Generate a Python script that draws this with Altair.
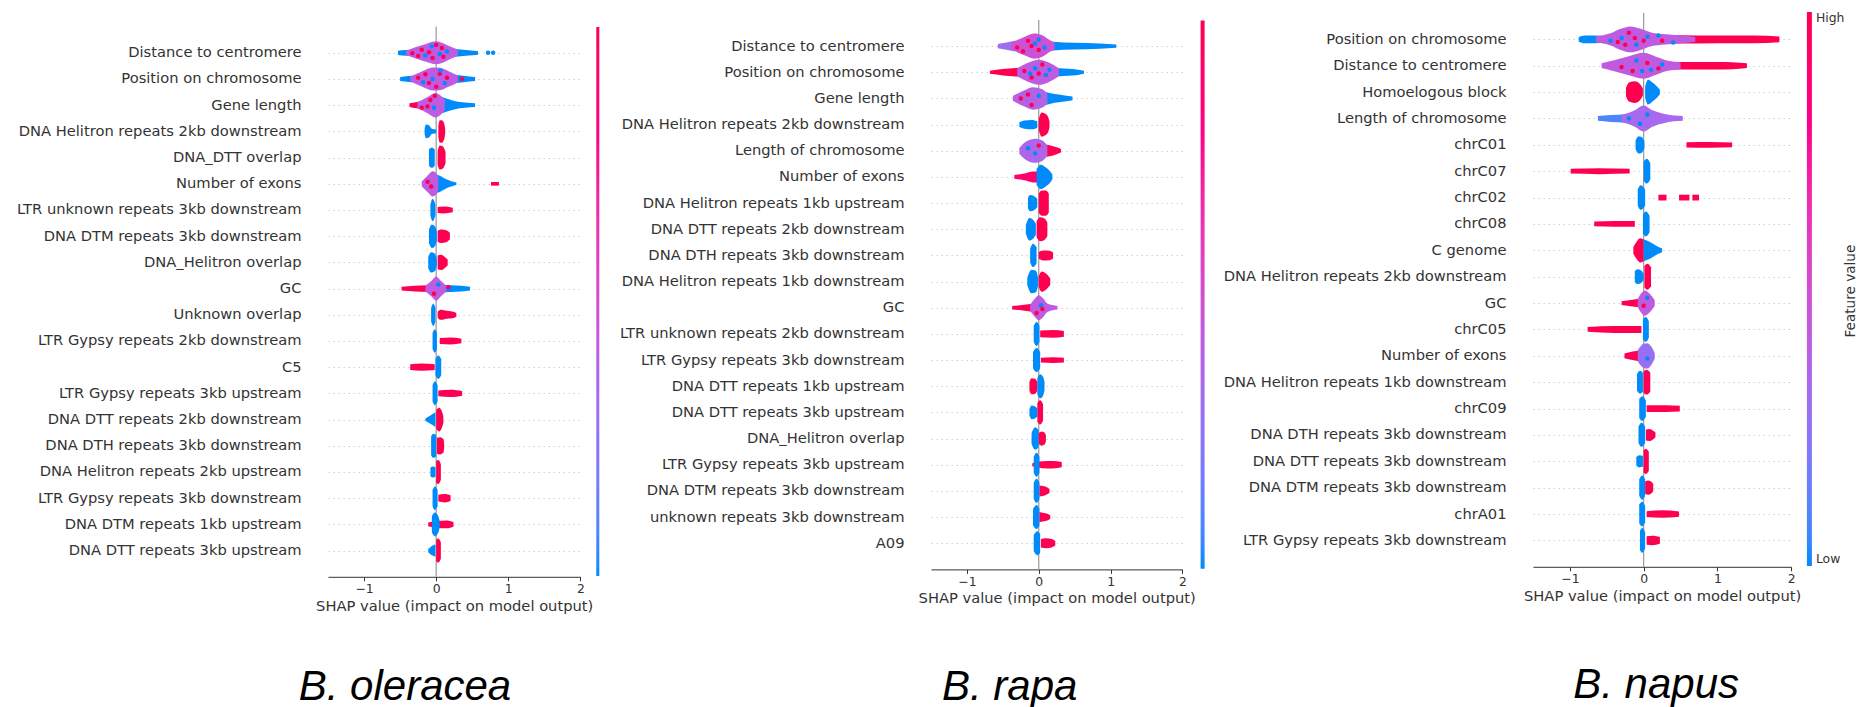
import json
import altair as alt
import pandas as pd

XMIN, XMAX = -1.5, 2.0
XTICKS = [-1, 0, 1, 2]
LOW_COLOR, HIGH_COLOR = "#008bfb", "#ff0051"
AXIS_TITLE = "SHAP value (impact on model output)"
MIX = 0.42  # feature value of the mixed (purple) part of a swarm

# ---------------- B. oleracea ----------------
OLERACEA_FEATURES = [
    "Distance to centromere", "Position on chromosome", "Gene length",
    "DNA Helitron repeats 2kb downstream", "DNA_DTT overlap", "Number of exons",
    "LTR unknown repeats 3kb downstream", "DNA DTM repeats 3kb downstream",
    "DNA_Helitron overlap", "GC", "Unknown overlap", "LTR Gypsy repeats 2kb downstream",
    "C5", "LTR Gypsy repeats 3kb upstream", "DNA DTT repeats 2kb downstream",
    "DNA DTH repeats 3kb downstream", "DNA Helitron repeats 2kb upstream",
    "LTR Gypsy repeats 3kb downstream", "DNA DTM repeats 1kb upstream",
    "DNA DTT repeats 3kb upstream",
]
# (row, feature value 0=low..1=high, [(shap value, half thickness in rows), ...])
OLERACEA_BLOBS = [
    (1, 0.0, [(-0.53, 0.08), (-0.42, 0.11), (-0.3, 0.13)]),
    (1, 0.0, [(0.15, 0.21), (0.3, 0.14), (0.45, 0.1), (0.58, 0.07)]),
    (1, MIX, [(-0.42, 0.07), (-0.27, 0.23), (-0.13, 0.35), (0.0, 0.44), (0.12, 0.34), (0.22, 0.21), (0.3, 0.11)]),
    (2, 0.0, [(-0.5, 0.08), (-0.38, 0.11), (-0.28, 0.13)]),
    (2, 0.0, [(0.2, 0.16), (0.35, 0.13), (0.46, 0.1), (0.54, 0.08)]),
    (2, MIX, [(-0.36, 0.09), (-0.2, 0.29), (-0.05, 0.44), (0.05, 0.43), (0.18, 0.29), (0.3, 0.13)]),
    (3, 1.0, [(-0.37, 0.07), (-0.27, 0.12), (-0.15, 0.19)]),
    (3, 0.0, [(0.0, 0.39), (0.12, 0.27), (0.25, 0.16), (0.4, 0.1), (0.54, 0.07)]),
    (3, MIX, [(-0.26, 0.11), (-0.12, 0.31), (-0.01, 0.47), (0.07, 0.35), (0.12, 0.19)]),
    (4, 0.0, [(-0.16, 0.11), (-0.14, 0.26), (-0.1, 0.23), (-0.06, 0.1), (0.0, 0.07)]),
    (4, 1.0, [(0.03, 0.21), (0.05, 0.43), (0.08, 0.43), (0.11, 0.31), (0.125, 0.11)]),
    (5, 0.0, [(-0.1, 0.31), (-0.06, 0.39), (-0.02, 0.31)]),
    (5, 1.0, [(0.02, 0.26), (0.05, 0.46), (0.09, 0.43), (0.13, 0.21)]),
    (6, 0.0, [(-0.02, 0.36), (0.05, 0.31), (0.15, 0.16), (0.22, 0.09), (0.28, 0.05)]),
    (6, MIX, [(-0.2, 0.09), (-0.12, 0.31), (-0.05, 0.48), (0.0, 0.41), (0.03, 0.21)]),
    (6, 1.0, [(0.76, 0.07), (0.87, 0.07)]),
    (7, 0.0, [(-0.08, 0.21), (-0.05, 0.43), (-0.01, 0.21)]),
    (7, 1.0, [(0.02, 0.11), (0.1, 0.13), (0.23, 0.09)]),
    (8, 0.0, [(-0.1, 0.26), (-0.06, 0.45), (-0.02, 0.39), (0.01, 0.16)]),
    (8, 1.0, [(0.02, 0.21), (0.07, 0.26), (0.14, 0.23), (0.19, 0.13)]),
    (9, 0.0, [(-0.11, 0.21), (-0.07, 0.39), (-0.02, 0.34), (0.01, 0.11)]),
    (9, 1.0, [(0.02, 0.26), (0.07, 0.29), (0.12, 0.21), (0.16, 0.11)]),
    (10, 1.0, [(-0.48, 0.07), (-0.3, 0.11), (-0.12, 0.13)]),
    (10, 0.0, [(0.05, 0.16), (0.2, 0.13), (0.35, 0.11), (0.47, 0.07)]),
    (10, MIX, [(-0.15, 0.11), (-0.06, 0.31), (0.0, 0.46), (0.06, 0.31), (0.14, 0.11)]),
    (11, 0.0, [(-0.07, 0.26), (-0.04, 0.43), (-0.01, 0.26)]),
    (11, 1.0, [(0.02, 0.11), (0.06, 0.19), (0.15, 0.15), (0.25, 0.11), (0.28, 0.07)]),
    (12, 0.0, [(-0.05, 0.31), (-0.02, 0.45), (0.01, 0.31)]),
    (12, 1.0, [(0.05, 0.11), (0.2, 0.13), (0.35, 0.09)]),
    (13, 1.0, [(-0.36, 0.11), (-0.2, 0.14), (-0.02, 0.11)]),
    (13, 0.0, [(-0.01, 0.31), (0.03, 0.45), (0.07, 0.31)]),
    (14, 0.0, [(-0.05, 0.31), (-0.02, 0.45), (0.02, 0.31)]),
    (14, 1.0, [(0.03, 0.11), (0.2, 0.14), (0.36, 0.09)]),
    (15, 0.0, [(-0.15, 0.04), (-0.08, 0.16), (-0.01, 0.28)]),
    (15, 1.0, [(0.0, 0.36), (0.04, 0.45), (0.08, 0.31), (0.1, 0.13)]),
    (16, 0.0, [(-0.07, 0.36), (-0.04, 0.46), (0.0, 0.41)]),
    (16, 1.0, [(0.01, 0.31), (0.05, 0.33), (0.1, 0.26), (0.11, 0.11)]),
    (17, 0.0, [(-0.08, 0.16), (-0.05, 0.21), (-0.01, 0.19)]),
    (17, 1.0, [(0.0, 0.41), (0.03, 0.46), (0.065, 0.31)]),
    (18, 0.0, [(-0.05, 0.31), (-0.02, 0.45), (0.02, 0.31)]),
    (18, 1.0, [(0.03, 0.13), (0.12, 0.16), (0.2, 0.11)]),
    (19, 1.0, [(-0.11, 0.07), (0.0, 0.13), (0.15, 0.15), (0.24, 0.09)]),
    (19, 0.0, [(-0.06, 0.31), (-0.02, 0.45), (0.03, 0.31), (0.05, 0.11)]),
    (20, 0.0, [(-0.11, 0.06), (-0.06, 0.18), (-0.01, 0.23)]),
    (20, 1.0, [(0.0, 0.41), (0.03, 0.46), (0.065, 0.31)]),
]
# (row, feature value, shap value, offset within row)
OLERACEA_DOTS = [
    (1, 0.0, 0.72, 0.0), (1, 0.0, 0.79, 0.0),
    (1, 1.0, -0.33, 0.02), (1, 1.0, -0.2, -0.12), (1, 1.0, -0.05, 0.2), (1, 1.0, 0.08, -0.18),
    (1, 0.0, 0.05, 0.05), (1, 1.0, 0.0, -0.3), (1, 0.0, -0.15, 0.1), (1, 1.0, -0.25, 0.12),
    (1, 0.0, 0.15, -0.05), (1, 1.0, 0.1, 0.15), (1, 1.0, -0.1, -0.02), (1, 0.0, -0.06, -0.25),
    (2, 1.0, -0.1, 0.15), (2, 1.0, 0.05, -0.2), (2, 1.0, 0.36, 0.0), (2, 1.0, -0.25, -0.05),
    (2, 0.0, -0.05, 0.0), (2, 0.0, 0.12, 0.15), (2, 1.0, 0.0, 0.3), (2, 1.0, 0.15, -0.05),
    (2, 0.0, -0.18, 0.12), (2, 1.0, -0.15, -0.18), (2, 0.0, 0.06, -0.32),
    (3, 1.0, -0.2, 0.1), (3, 1.0, -0.08, -0.2), (3, 0.0, -0.03, 0.1), (3, 1.0, -0.12, 0.05),
    (3, 1.0, -0.02, -0.35),
    (6, 1.0, -0.07, 0.1), (6, 1.0, -0.12, -0.08),
    (10, 1.0, 0.17, -0.05), (10, 1.0, -0.03, 0.2), (10, 0.0, 0.03, -0.15),
]

# ---------------- B. rapa ----------------
RAPA_FEATURES = [
    "Distance to centromere", "Position on chromosome", "Gene length",
    "DNA Helitron repeats 2kb downstream", "Length of chromosome", "Number of exons",
    "DNA Helitron repeats 1kb upstream", "DNA DTT repeats 2kb downstream",
    "DNA DTH repeats 3kb downstream", "DNA Helitron repeats 1kb downstream", "GC",
    "LTR unknown repeats 2kb downstream", "LTR Gypsy repeats 3kb downstream",
    "DNA DTT repeats 1kb upstream", "DNA DTT repeats 3kb upstream", "DNA_Helitron overlap",
    "LTR Gypsy repeats 3kb upstream", "DNA DTM repeats 3kb downstream",
    "unknown repeats 3kb downstream", "A09",
]
RAPA_BLOBS = [
    (1, 0.3, [(-0.57, 0.08), (-0.45, 0.14), (-0.32, 0.21)]),
    (1, 0.0, [(0.05, 0.26), (0.2, 0.17), (0.5, 0.13), (0.85, 0.1), (1.08, 0.06)]),
    (1, 0.48, [(-0.38, 0.13), (-0.2, 0.35), (-0.06, 0.48), (0.05, 0.41), (0.15, 0.23), (0.22, 0.13)]),
    (2, 1.0, [(-0.68, 0.06), (-0.5, 0.12), (-0.32, 0.16), (-0.18, 0.19)]),
    (2, 0.0, [(0.2, 0.16), (0.4, 0.13), (0.55, 0.1), (0.63, 0.06)]),
    (2, MIX, [(-0.3, 0.15), (-0.15, 0.36), (0.0, 0.48), (0.15, 0.36), (0.28, 0.15)]),
    (3, 0.0, [(0.02, 0.31), (0.15, 0.21), (0.3, 0.14), (0.47, 0.07)]),
    (3, 0.38, [(-0.36, 0.09), (-0.2, 0.31), (-0.08, 0.43), (0.05, 0.35), (0.12, 0.19)]),
    (4, 0.0, [(-0.27, 0.09), (-0.2, 0.16), (-0.1, 0.18), (-0.02, 0.13)]),
    (4, 1.0, [(0.0, 0.21), (0.04, 0.46), (0.09, 0.41), (0.13, 0.29), (0.15, 0.11)]),
    (5, 1.0, [(0.05, 0.26), (0.15, 0.21), (0.25, 0.13), (0.31, 0.07)]),
    (5, 0.35, [(-0.27, 0.11), (-0.17, 0.36), (-0.05, 0.46), (0.05, 0.39), (0.12, 0.19)]),
    (6, 0.9, [(-0.34, 0.07), (-0.2, 0.13), (-0.08, 0.21), (0.0, 0.21)]),
    (6, 0.0, [(-0.03, 0.31), (0.03, 0.47), (0.1, 0.36), (0.16, 0.21), (0.19, 0.09)]),
    (7, 0.0, [(-0.15, 0.21), (-0.12, 0.31), (-0.06, 0.26), (-0.02, 0.16)]),
    (7, 1.0, [(0.0, 0.36), (0.04, 0.48), (0.1, 0.48), (0.14, 0.36)]),
    (8, 0.0, [(-0.18, 0.16), (-0.13, 0.43), (-0.08, 0.36), (-0.04, 0.21)]),
    (8, 1.0, [(-0.03, 0.31), (0.02, 0.46), (0.08, 0.41), (0.12, 0.26)]),
    (9, 0.0, [(-0.12, 0.26), (-0.08, 0.45), (-0.03, 0.31)]),
    (9, 1.0, [(0.0, 0.13), (0.06, 0.19), (0.15, 0.18), (0.2, 0.11)]),
    (10, 0.0, [(-0.16, 0.13), (-0.1, 0.45), (-0.04, 0.41), (-0.01, 0.16)]),
    (10, 1.0, [(0.0, 0.21), (0.04, 0.39), (0.1, 0.31), (0.16, 0.13)]),
    (11, 1.0, [(-0.37, 0.07), (-0.2, 0.11), (-0.08, 0.16)]),
    (11, MIX, [(-0.12, 0.11), (-0.05, 0.36), (0.0, 0.48), (0.06, 0.36), (0.12, 0.16), (0.26, 0.07)]),
    (12, 0.0, [(-0.07, 0.31), (-0.03, 0.46), (0.01, 0.31)]),
    (12, 1.0, [(0.02, 0.13), (0.2, 0.15), (0.35, 0.11)]),
    (13, 0.0, [(-0.08, 0.31), (-0.03, 0.46), (0.02, 0.31)]),
    (13, 1.0, [(0.03, 0.09), (0.2, 0.11), (0.35, 0.09)]),
    (14, 1.0, [(-0.13, 0.16), (-0.1, 0.31), (-0.05, 0.29), (-0.02, 0.16)]),
    (14, 0.0, [(-0.02, 0.31), (0.02, 0.46), (0.06, 0.36), (0.08, 0.16)]),
    (15, 0.0, [(-0.13, 0.11), (-0.1, 0.26), (-0.05, 0.23), (-0.02, 0.16)]),
    (15, 1.0, [(-0.02, 0.36), (0.02, 0.46), (0.06, 0.31)]),
    (16, 0.0, [(-0.1, 0.21), (-0.05, 0.43), (0.0, 0.31)]),
    (16, 1.0, [(0.0, 0.21), (0.04, 0.27), (0.08, 0.23), (0.1, 0.11)]),
    (17, 1.0, [(-0.09, 0.06), (0.05, 0.13), (0.2, 0.14), (0.32, 0.1)]),
    (17, 0.0, [(-0.07, 0.31), (-0.03, 0.46), (0.01, 0.31)]),
    (18, 0.0, [(-0.07, 0.31), (-0.03, 0.46), (0.01, 0.31)]),
    (18, 1.0, [(0.01, 0.21), (0.06, 0.19), (0.12, 0.13), (0.15, 0.07)]),
    (19, 0.0, [(-0.08, 0.31), (-0.03, 0.46), (0.01, 0.31)]),
    (19, 1.0, [(0.01, 0.19), (0.07, 0.16), (0.12, 0.13), (0.16, 0.07)]),
    (20, 0.0, [(-0.07, 0.31), (-0.02, 0.46), (0.02, 0.36)]),
    (20, 1.0, [(0.03, 0.16), (0.1, 0.19), (0.18, 0.16), (0.23, 0.09)]),
]
RAPA_DOTS = [
    (1, 1.0, -0.3, 0.05), (1, 1.0, -0.15, -0.2), (1, 1.0, 0.0, 0.15), (1, 0.0, -0.05, -0.1),
    (1, 0.0, 0.08, 0.05), (1, 1.0, -0.22, 0.2), (1, 1.0, -0.1, 0.0), (1, 0.0, 0.0, -0.25),
    (2, 1.0, -0.1, 0.2), (2, 0.0, -0.05, -0.15), (2, 0.0, 0.1, 0.1), (2, 1.0, 0.05, -0.3),
    (2, 1.0, -0.2, -0.05), (2, 0.0, 0.15, -0.1), (2, 1.0, 0.0, 0.05), (2, 0.0, -0.12, 0.05),
    (3, 1.0, -0.1, 0.25), (3, 0.0, 0.0, -0.1), (3, 1.0, -0.25, 0.0), (3, 1.0, -0.15, -0.15),
    (5, 0.0, -0.05, 0.1), (5, 1.0, 0.0, -0.2), (5, 0.0, -0.15, -0.1),
    (11, 1.0, -0.03, 0.2), (11, 0.0, 0.03, -0.1), (11, 1.0, 0.05, 0.05),
]

# ---------------- B. napus ----------------
NAPUS_FEATURES = [
    "Position on chromosome", "Distance to centromere", "Homoelogous block",
    "Length of chromosome", "chrC01", "chrC07", "chrC02", "chrC08", "C genome",
    "DNA Helitron repeats 2kb downstream", "GC", "chrC05", "Number of exons",
    "DNA Helitron repeats 1kb downstream", "chrC09", "DNA DTH repeats 3kb downstream",
    "DNA DTT repeats 3kb downstream", "DNA DTM repeats 3kb downstream", "chrA01",
    "LTR Gypsy repeats 3kb downstream",
]
NAPUS_BLOBS = [
    (1, 0.0, [(-0.88, 0.09), (-0.8, 0.15), (-0.65, 0.15), (-0.55, 0.13)]),
    (1, 1.0, [(0.1, 0.16), (0.5, 0.16), (1.0, 0.15), (1.5, 0.15), (1.84, 0.11)]),
    (1, MIX, [(-0.65, 0.11), (-0.45, 0.23), (-0.3, 0.41), (-0.18, 0.49), (-0.05, 0.41), (0.1, 0.26), (0.3, 0.19), (0.55, 0.14), (0.7, 0.09)]),
    (2, 1.0, [(0.3, 0.15), (0.7, 0.14), (1.0, 0.14), (1.2, 0.13), (1.4, 0.09)]),
    (2, MIX, [(-0.57, 0.09), (-0.4, 0.21), (-0.2, 0.36), (0.0, 0.49), (0.15, 0.36), (0.3, 0.21), (0.5, 0.13)]),
    (3, 1.0, [(-0.24, 0.16), (-0.2, 0.36), (-0.12, 0.41), (-0.05, 0.31), (-0.01, 0.13)]),
    (3, 0.0, [(0.02, 0.21), (0.06, 0.47), (0.12, 0.36), (0.18, 0.21), (0.22, 0.09)]),
    (4, 0.08, [(-0.62, 0.09), (-0.45, 0.13), (-0.25, 0.16), (-0.1, 0.21)]),
    (4, 0.33, [(-0.3, 0.13), (-0.12, 0.31), (0.0, 0.49), (0.12, 0.31), (0.3, 0.16), (0.53, 0.09)]),
    (5, 0.0, [(-0.11, 0.16), (-0.07, 0.33), (-0.03, 0.31), (0.01, 0.13)]),
    (5, 1.0, [(0.58, 0.1), (0.9, 0.11), (1.2, 0.09)]),
    (6, 1.0, [(-0.99, 0.09), (-0.6, 0.11), (-0.19, 0.09)]),
    (6, 0.0, [(0.0, 0.36), (0.04, 0.47), (0.09, 0.31)]),
    (7, 0.0, [(-0.08, 0.31), (-0.04, 0.47), (0.02, 0.31)]),
    (7, 1.0, [(0.2, 0.11), (0.31, 0.11)]),
    (7, 1.0, [(0.48, 0.11), (0.62, 0.11)]),
    (7, 1.0, [(0.66, 0.11), (0.75, 0.11)]),
    (8, 1.0, [(-0.67, 0.09), (-0.4, 0.11), (-0.12, 0.11)]),
    (8, 0.0, [(-0.01, 0.36), (0.03, 0.47), (0.08, 0.31)]),
    (9, 1.0, [(-0.14, 0.13), (-0.1, 0.31), (-0.05, 0.46), (0.0, 0.41)]),
    (9, 0.0, [(0.0, 0.41), (0.05, 0.36), (0.12, 0.26), (0.2, 0.13), (0.25, 0.07)]),
    (10, 0.0, [(-0.12, 0.21), (-0.08, 0.28), (-0.03, 0.23), (0.0, 0.11)]),
    (10, 1.0, [(0.01, 0.41), (0.05, 0.49), (0.1, 0.36)]),
    (11, 1.0, [(-0.3, 0.07), (-0.15, 0.13), (-0.03, 0.16)]),
    (11, MIX, [(-0.08, 0.16), (-0.02, 0.41), (0.02, 0.48), (0.08, 0.36), (0.15, 0.11)]),
    (12, 1.0, [(-0.76, 0.09), (-0.4, 0.13), (-0.03, 0.13)]),
    (12, 0.0, [(-0.01, 0.36), (0.03, 0.47), (0.07, 0.31)]),
    (13, 1.0, [(-0.26, 0.09), (-0.15, 0.16), (-0.05, 0.21)]),
    (13, 0.28, [(-0.08, 0.21), (0.0, 0.46), (0.05, 0.48), (0.1, 0.36), (0.15, 0.11)]),
    (14, 0.0, [(-0.09, 0.31), (-0.05, 0.43), (-0.01, 0.36)]),
    (14, 1.0, [(0.0, 0.41), (0.04, 0.47), (0.09, 0.36)]),
    (15, 0.0, [(-0.06, 0.36), (-0.02, 0.47), (0.03, 0.31)]),
    (15, 1.0, [(0.04, 0.13), (0.3, 0.13), (0.49, 0.11)]),
    (16, 0.0, [(-0.07, 0.31), (-0.03, 0.46), (0.02, 0.31)]),
    (16, 1.0, [(0.03, 0.21), (0.08, 0.23), (0.13, 0.16), (0.16, 0.09)]),
    (17, 0.0, [(-0.1, 0.16), (-0.06, 0.23), (-0.01, 0.21)]),
    (17, 1.0, [(0.0, 0.41), (0.03, 0.48), (0.07, 0.36)]),
    (18, 0.0, [(-0.06, 0.31), (-0.02, 0.46), (0.02, 0.31)]),
    (18, 1.0, [(0.02, 0.23), (0.06, 0.27), (0.1, 0.23), (0.13, 0.13)]),
    (19, 0.0, [(-0.06, 0.36), (-0.02, 0.47), (0.02, 0.31)]),
    (19, 1.0, [(0.04, 0.11), (0.25, 0.14), (0.48, 0.1)]),
    (20, 0.0, [(-0.05, 0.36), (-0.02, 0.47), (0.02, 0.31)]),
    (20, 1.0, [(0.04, 0.16), (0.12, 0.18), (0.22, 0.13)]),
]
NAPUS_DOTS = [
    (1, 1.0, -0.35, 0.1), (1, 1.0, -0.2, -0.25), (1, 0.0, -0.1, 0.2), (1, 1.0, 0.0, 0.05),
    (1, 0.0, 0.2, -0.15), (1, 0.0, 0.4, 0.12), (1, 1.0, -0.25, 0.2), (1, 0.0, -0.3, -0.05),
    (1, 1.0, -0.12, -0.05), (1, 0.0, 0.05, -0.1), (1, 1.0, 0.25, 0.05), (1, 0.0, -0.45, 0.05),
    (2, 0.0, -0.1, -0.2), (2, 1.0, -0.3, 0.05), (2, 0.0, 0.1, 0.15), (2, 1.0, 0.05, -0.1),
    (2, 0.0, -0.02, 0.2), (2, 1.0, 0.2, 0.1), (2, 1.0, -0.15, 0.2), (2, 0.0, 0.25, -0.05),
    (4, 0.0, -0.05, 0.2), (4, 0.0, 0.05, -0.15), (4, 0.0, -0.2, 0.0),
    (11, 0.0, 0.05, -0.2), (11, 1.0, 0.0, 0.1), (13, 0.0, 0.05, 0.1),
]

CSCALE = alt.Scale(domain=[0, 1], range=[LOW_COLOR, HIGH_COLOR], interpolate="hcl")


def blob_frame(blobs):
    recs = []
    for i, (row, val, pts) in enumerate(blobs):
        for x, h in pts:
            recs.append({"seg": f"s{i:03d}", "v": val, "x": x,
                         "lo": row - h, "hi": row + h})
    return pd.DataFrame(recs)


def dot_frame(dots):
    return pd.DataFrame([{"v": v, "x": x, "y": row + dy} for row, v, x, dy in dots])


def panel(features, blobs, dots, top, height, width, legend, title, title_dx,
          title_offset, bar_label=False):
    yscale = alt.Scale(domain=[top, 21], reverse=True, nice=False, zero=False)
    xscale = alt.Scale(domain=[XMIN, XMAX], nice=False, zero=False)
    label_expr = json.dumps([""] + features) + "[datum.value]"
    yaxis = alt.Axis(values=list(range(1, 21)), labelExpr=label_expr, title=None,
                     domain=False, ticks=False, tickSize=0, labelPadding=27,
                     labelFontSize=14.7, labelFont="DejaVu Sans", labelColor="#333333",
                     labelLimit=500, labelOverlap=False, labelBound=False, grid=True,
                     gridColor="#cccccc", gridDash=[1.5, 3.5], gridWidth=0.9)
    xaxis = alt.Axis(values=XTICKS, format="d", title=AXIS_TITLE, grid=False,
                     domainColor="#333333", domainWidth=1, tickColor="#333333",
                     tickSize=4, labelFontSize=12.4, labelFont="DejaVu Sans",
                     labelColor="#333333", labelPadding=2, labelFlush=False,
                     labelOverlap=False, titleFont="DejaVu Sans", titleFontSize=14.7,
                     titleFontWeight="normal", titleColor="#333333", titlePadding=3)

    zero = alt.Chart(pd.DataFrame({"x": [0.0], "y": [0.0], "y2": [21.0]})).mark_rule(
        color="#999999", strokeWidth=1.2).encode(
        x=alt.X("x:Q", scale=xscale, axis=xaxis),
        y=alt.Y("y:Q", scale=yscale, axis=yaxis), y2="y2:Q")

    areas = alt.Chart(blob_frame(blobs)).mark_area(
        orient="vertical", interpolate="monotone", opacity=1).encode(
        x=alt.X("x:Q", scale=xscale, axis=xaxis),
        y=alt.Y("lo:Q", scale=yscale, axis=yaxis), y2="hi:Q",
        color=alt.Color("v:Q", scale=CSCALE, legend=legend),
        detail="seg:N")

    pts = alt.Chart(dot_frame(dots)).mark_circle(size=20, opacity=1).encode(
        x=alt.X("x:Q", scale=xscale, axis=xaxis),
        y=alt.Y("y:Q", scale=yscale, axis=yaxis),
        color=alt.Color("v:Q", scale=CSCALE, legend=legend))

    layers = [zero, areas, pts]
    if bar_label:
        lab = alt.Chart(pd.DataFrame({"t": ["Feature value"]})).mark_text(
            angle=270, align="center", baseline="middle", fontSize=13.6,
            font="DejaVu Sans", color="#333333").encode(
            x=alt.value(318.2), y=alt.value(278.1), text="t:N")
        layers.append(lab)

    return alt.layer(*layers).properties(
        width=width, height=height,
        title=alt.TitleParams(title, orient="bottom", anchor="middle", frame="group",
                              dx=title_dx, offset=title_offset, fontSize=42,
                              font="Liberation Sans", fontStyle="italic",
                              fontWeight="normal", color="#000000"))


def bar_legend(x, y, length, thick, labelled):
    kw = dict(type="gradient", orient="none", legendX=x, legendY=y,
              direction="vertical", gradientLength=length, gradientThickness=thick,
              gradientStrokeWidth=0, padding=0, title=None,
              labelFont="DejaVu Sans", labelFontSize=12.4, labelColor="#333333",
              labelBaseline="middle", labelOffset=4)
    if labelled:
        kw["labelExpr"] = "datum.value == 1 ? 'High' : datum.value == 0 ? 'Low' : ''"
    else:
        kw["labelExpr"] = "''"
        kw["labelOpacity"] = 0
    return alt.Legend(**kw)


p1 = panel(OLERACEA_FEATURES, OLERACEA_BLOBS, OLERACEA_DOTS, -0.519, 563.8, 252.4,
           bar_legend(268.3, 14.1, 549, 3, False), "B. oleracea", -49.2, 54)
p2 = panel(RAPA_FEATURES, RAPA_BLOBS, RAPA_DOTS, -0.265, 556.4, 251.4,
           bar_legend(269.6, 7.4, 548.4, 4, False), "B. rapa", -47, 61)
p3 = panel(NAPUS_FEATURES, NAPUS_BLOBS, NAPUS_DOTS, 0.0, 553.8, 258.2,
           bar_legend(273.9, -0.9, 554, 5, True), "B. napus", -6, 62, bar_label=True)

chart = alt.hconcat(p1, p2, p3, spacing=350, bounds="flush").resolve_scale(
    color="independent").properties(
    padding={"left": 16, "top": 12, "right": 0, "bottom": 0},
    background="white").configure_view(strokeWidth=0).configure_axis(labelOverlap=False)

chart.save("out.html", embed_options={"renderer": "svg", "actions": False})
